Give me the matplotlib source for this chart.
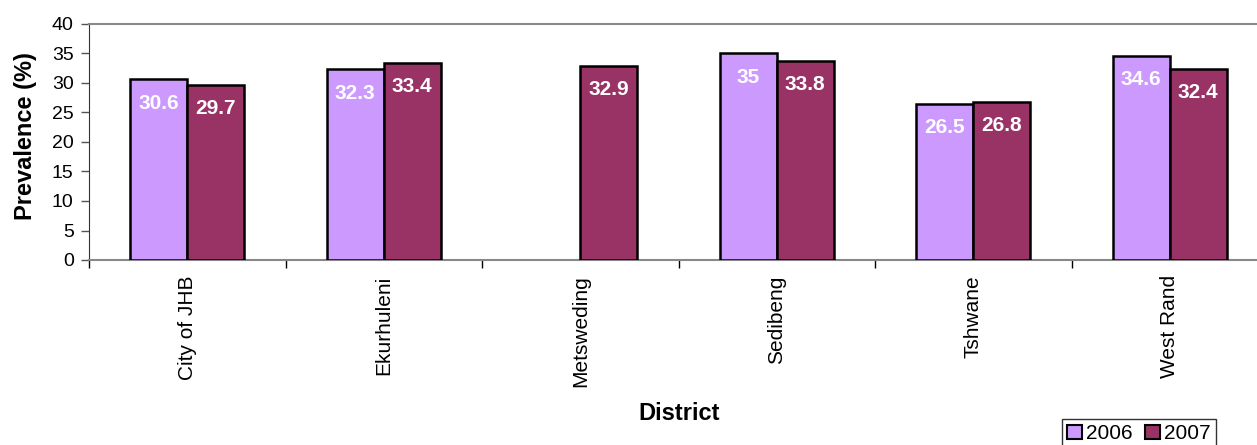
import numpy as np
from matplotlib import pyplot as plt
from matplotlib.patches import Patch

districts = ["City of JHB", "Ekurhuleni", "Metsweding", "Sedibeng", "Tshwane", "West Rand"]
prev_2006 = [30.6, 32.3, np.nan, 35, 26.5, 34.6]
prev_2007 = [29.7, 33.4, 32.9, 33.8, 26.8, 32.4]
years = ["2006", "2007"]
colors = ["#CC99FF", "#993366"]

plt.rcParams["font.family"] = ["Liberation Sans", "DejaVu Sans"]

W, H = 1257, 445
fig = plt.figure(figsize=(W / 100, H / 100), dpi=100)
ax = fig.add_axes([89 / W, 1 - 260 / H, (1268 - 89) / W, (260 - 24) / H])

x = np.arange(len(districts))
w = 0.29
for k, (vals, c) in enumerate(zip([prev_2006, prev_2007], colors)):
    pos = x + (k - 0.5) * w
    ax.bar(pos, vals, width=w, color=c, edgecolor="black", linewidth=1.8, zorder=3)
    for xp, v in zip(pos, vals):
        if np.isnan(v):
            continue
        ax.annotate(f"{v:g}", (xp, v), xytext=(0, -17), textcoords="offset points",
                    ha="center", va="center", color="white", fontweight="bold", fontsize=15, zorder=4)

ax.set_xlim(-0.5, len(districts) - 0.5)
ax.set_ylim(0, 40)
ax.set_yticks(range(0, 41, 5))
ax.tick_params(axis="y", labelsize=14, length=6, width=1, color="#555555", direction="out", pad=5)

ax.set_xticks(x)
ax.set_xticklabels(districts, rotation=90, fontsize=15)
ax.tick_params(axis="x", length=0, pad=11)
ax.set_xticks(np.arange(len(districts) + 1) - 0.5, minor=True)
ax.tick_params(axis="x", which="minor", length=6, width=1, color="black")

for s in ["top", "bottom"]:
    ax.spines[s].set_color("#888888")
    ax.spines[s].set_linewidth(1.5)
ax.spines["left"].set_color("#333333")
ax.spines["right"].set_visible(False)

fig.text(26 / W, 1 - 136 / H, "Prevalence (%)", rotation=90, ha="center", va="center",
         fontsize=17, fontweight="bold")
fig.text(679 / W, 1 - 414 / H, "District", ha="center", va="center", fontsize=17, fontweight="bold")

handles = [Patch(facecolor=c, edgecolor="black", linewidth=1.5) for c in colors]
leg = fig.legend(handles, years, loc="upper left", bbox_to_anchor=(1062 / W, 1 - 419 / H),
                 ncol=2, fontsize=15, frameon=True, fancybox=False, handlelength=0.7, handleheight=0.7,
                 handletextpad=0.2, columnspacing=0.6, borderpad=0.25, borderaxespad=0)
leg.get_frame().set_edgecolor("black")
leg.get_frame().set_linewidth(1)

fig.savefig("out.png", dpi=100)
